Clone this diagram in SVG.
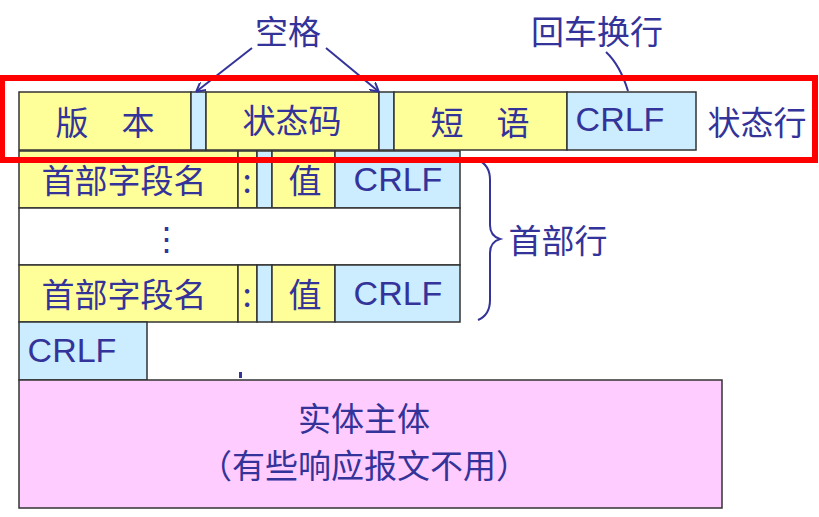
<svg xmlns="http://www.w3.org/2000/svg" width="819" height="517" viewBox="0 0 819 517">
<style>
.y{fill:#FFFF99;stroke:#333;stroke-width:1.5}
.b{fill:#CCECFF;stroke:#333;stroke-width:1.5}
.w{fill:#fff;stroke:#333;stroke-width:1.5}
.p{fill:#FFCCFF;stroke:#333;stroke-width:1.5}
text{font-family:"Noto Sans CJK SC","Liberation Sans",sans-serif;fill:#333399;font-size:33px;dominant-baseline:central;text-anchor:middle}
.c{font-family:"Liberation Sans","Noto Sans CJK SC",sans-serif;font-size:34px}
.ln{stroke:#333399;stroke-width:2;fill:none}
</style>
<defs><marker id="a" markerWidth="10" markerHeight="10" refX="8" refY="5" orient="auto" markerUnits="userSpaceOnUse"><path d="M0,0 L9,5 L0,10" fill="none" stroke="#333399" stroke-width="2"/></marker></defs>
<g id="status">
<rect class="y" x="19" y="92" width="172" height="58"/><text x="105" y="121">版　本</text>
<rect class="b" x="191" y="92" width="15" height="58"/>
<rect class="y" x="206" y="92" width="173" height="58"/><text x="292" y="119">状态码</text>
<rect class="b" x="379" y="92" width="15" height="58"/>
<rect class="y" x="394" y="92" width="173" height="58"/><text x="480" y="121">短　语</text>
<rect class="b" x="567" y="92" width="129" height="58"/><text class="c" x="620" y="119">CRLF</text>
<text x="757" y="121">状态行</text>
</g>
<g id="header1">
<rect class="y" x="19" y="151" width="219" height="57"/><text x="124" y="179">首部字段名</text>
<rect class="y" x="238" y="151" width="19" height="57"/><text x="247" y="179">:</text>
<rect class="b" x="257" y="151" width="15" height="57"/>
<rect class="y" x="272" y="151" width="63" height="57"/><text x="305" y="179">值</text>
<rect class="b" x="335" y="151" width="125" height="57"/><text class="c" x="398" y="179">CRLF</text>
</g>
<g id="dots"><rect class="w" x="19" y="208" width="441" height="57"/><text x="166" y="237">⋮</text></g>
<g id="header2">
<rect class="y" x="19" y="265" width="219" height="57"/><text x="124" y="293">首部字段名</text>
<rect class="y" x="238" y="265" width="19" height="57"/><text x="247" y="293">:</text>
<rect class="b" x="257" y="265" width="15" height="57"/>
<rect class="y" x="272" y="265" width="63" height="57"/><text x="305" y="293">值</text>
<rect class="b" x="335" y="265" width="125" height="57"/><text class="c" x="398" y="293">CRLF</text>
</g>
<g id="crlf"><rect class="b" x="19" y="322" width="128" height="58"/><text class="c" x="72" y="350">CRLF</text></g>
<rect x="239" y="372" width="3" height="6" fill="#333399"/>
<g id="body"><rect class="p" x="19" y="380" width="703" height="128"/><text x="364" y="417">实体主体</text><text x="364" y="464">（有些响应报文不用）</text></g>
<g id="labels">
<text x="288" y="30">空格</text>
<text x="597" y="30">回车换行</text>
<text x="558" y="239">首部行</text>
</g>
<g id="connectors">
<path class="ln" d="M252,48 L197,91" marker-end="url(#a)"/>
<path class="ln" d="M326,48 L378,91" marker-end="url(#a)"/>
<path class="ln" d="M606,52 Q620,65 628,91"/>
<path class="ln" d="M478,160 Q490,165 490,180 L490,225 Q490,236 500,239 Q490,242 490,253 L490,300 Q490,315 478,320"/>
</g>
<rect x="2" y="78" width="813" height="82" fill="none" stroke="#FF0000" stroke-width="6"/>
</svg>
